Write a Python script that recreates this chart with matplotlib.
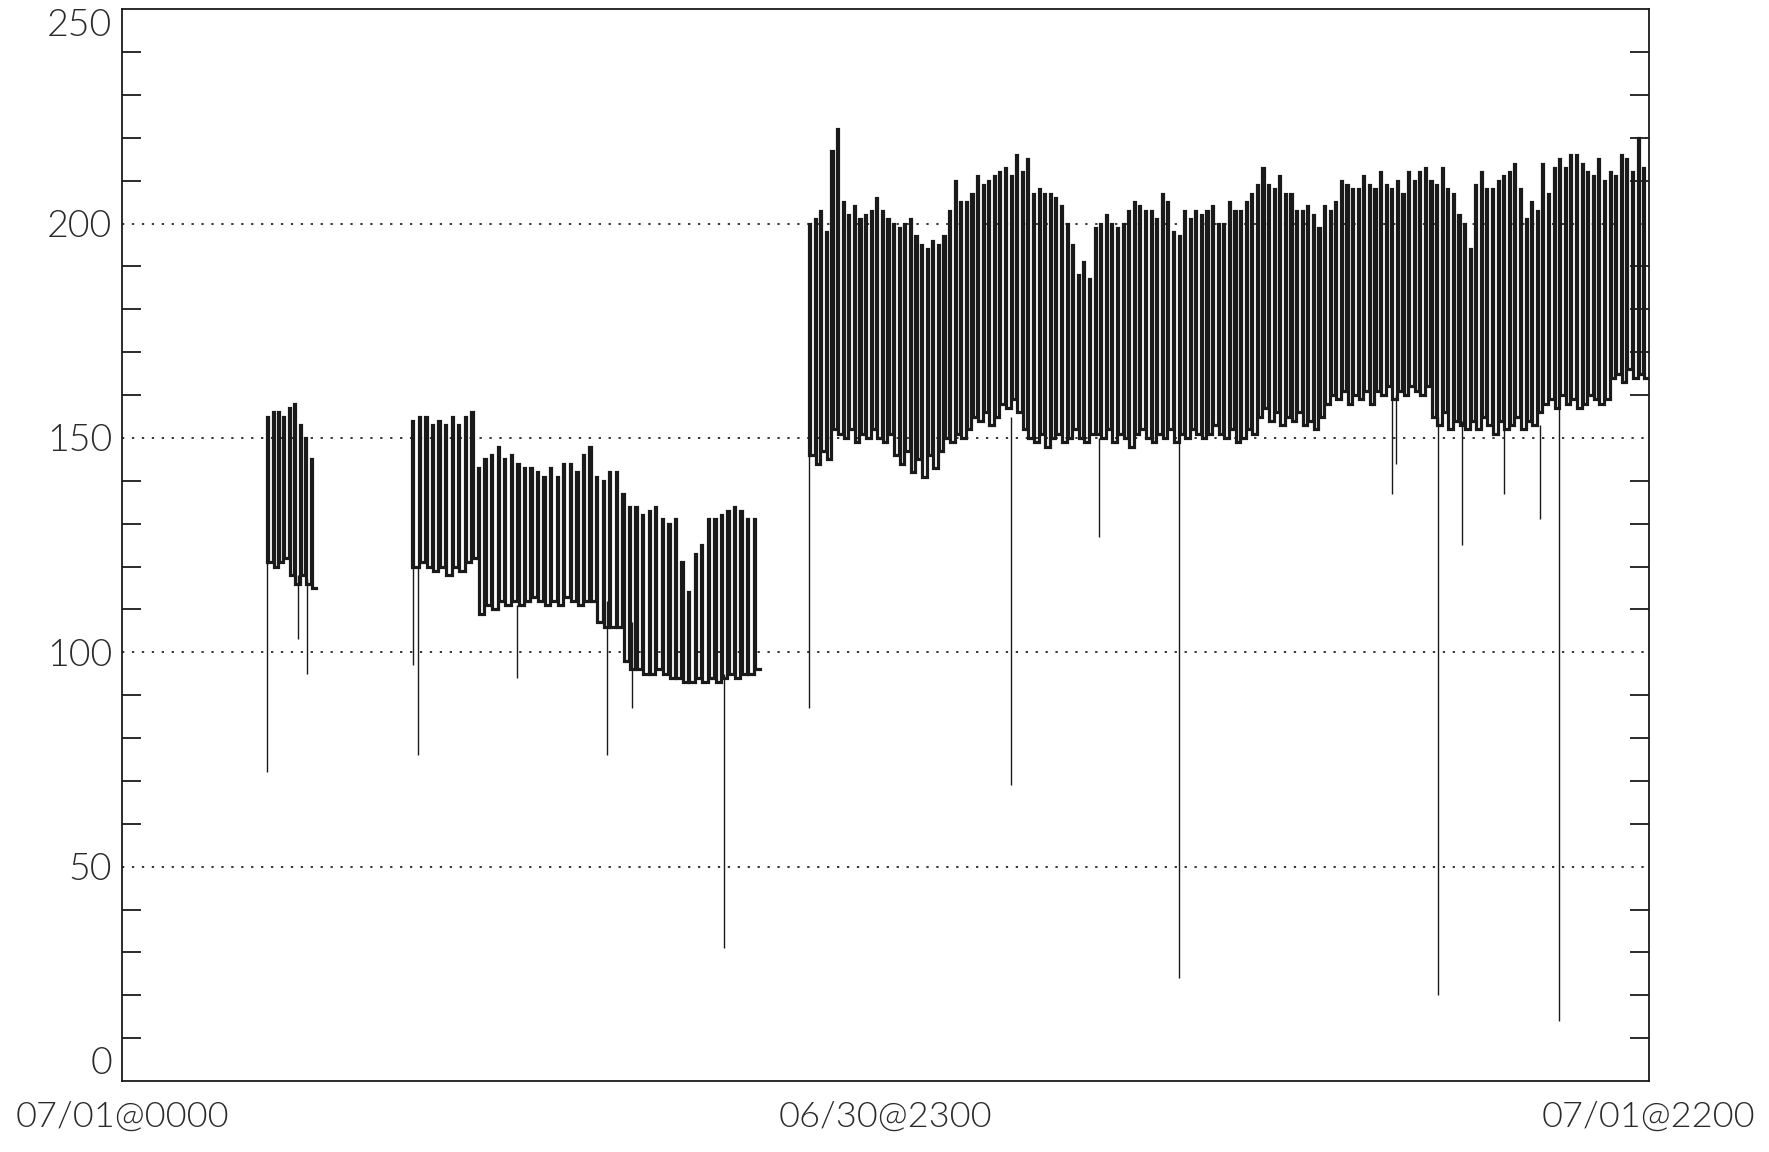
"""Pulse train trace with dropouts, redrawn from a scanned strip chart."""

import matplotlib
matplotlib.use("Agg")
import matplotlib.pyplot as plt
import numpy as np

plt.rcParams["font.family"] = ["Lato", "DejaVu Sans"]

# time axis runs 0..1000 (arbitrary sample units), labelled at three points
X_TICKS = [0, 500, 1000]
X_LABELS = ["07/01@0000", "06/30@2300", "07/01@2200"]
Y_LABELS = [0, 50, 100, 150, 200, 250]

# segment 1
SEG1_RANGE = (95, 127)
SEG1_PEAKS = [155, 156, 156, 155, 157, 158, 153, 150, 145]
SEG1_LOWS = [121, 120, 121, 122, 118, 116, 118, 116, 115]

# segment 2
SEG2_RANGE = (190, 418)
SEG2_PEAKS = [154, 155, 155, 153, 154, 153, 155, 153, 155, 156,
              143, 145, 146, 148, 145, 146, 144, 143, 143, 142, 141, 143, 141, 144, 144, 142,
              146, 148, 141, 140, 142, 142, 137, 134, 134, 132, 133, 134, 131, 130, 131,
              121, 114, 123, 125, 131, 131, 132, 133, 134, 133, 131, 131]
SEG2_LOWS = [120, 121, 120, 119, 120, 118, 120, 119, 121, 122,
             109, 111, 110, 112, 111, 112, 111, 112, 113, 112, 111, 112, 111, 113, 112, 111,
             112, 112, 107, 106, 106, 106, 98, 96, 96, 95, 95, 96, 95, 94, 94,
             93, 93, 94, 93, 94, 93, 94, 95, 94, 95, 95, 96]

# segment 3
SEG3_RANGE = (450, 1000)
SEG3_PEAKS = [200, 201, 203, 198, 217, 222, 205, 202, 204, 201, 202, 203, 206, 203, 201, 200, 199,
              200, 201, 197, 195, 194, 196, 195, 197, 203, 210, 205, 205, 207, 211, 209, 210, 211,
              212, 213, 211, 216, 212, 215, 207, 208, 207, 207, 206, 204, 200, 195, 188, 191, 187,
              199, 200, 202, 200, 199, 200, 203, 205, 204, 203, 203, 201, 207, 205, 198, 197, 203,
              201, 203, 202, 203,
              204, 200, 200, 205, 203, 203, 205, 207, 209, 213, 209, 208, 211, 207, 207, 203, 203,
              204, 202, 199, 204, 203, 205, 210, 209, 208, 208, 211, 209, 208, 212, 209, 208, 210,
              207, 212, 210, 212, 213,
              210, 209, 213, 208, 207, 202, 200, 194, 209, 212, 208, 208, 210, 211, 212, 214, 208,
              201, 205, 203, 214, 207, 213, 215, 213, 216, 216, 214, 212, 211, 215, 210, 212, 211,
              216, 215, 212, 220, 213]
SEG3_LOWS = [146, 144, 147, 145, 152, 151, 150, 152, 149, 151, 150, 152, 150, 149, 151,
             146, 144, 147, 142, 145, 141, 146, 143, 147, 150, 149, 151, 150, 152, 155, 154, 156, 153, 155,
             158, 157, 159, 156, 152, 150, 149, 151, 148, 150, 151, 149, 150, 152, 150, 149, 151,
             151, 150, 152, 149, 151, 150, 148, 151, 152, 150, 149, 151, 150, 152, 149, 151, 150, 152,
             151, 150, 151,
             153, 151, 150, 152, 149, 150, 152, 151, 155, 157, 154, 156, 153, 155, 154, 156, 153, 154,
             152, 155, 158, 160, 159, 161, 158, 160, 159, 161, 158, 161, 160, 162, 159, 161, 160, 162,
             161, 160, 162,
             155, 153, 156, 152, 154, 153, 152, 154, 152, 155, 153, 151, 154, 152, 153, 155, 152, 154,
             153, 156, 158, 159, 157, 160, 158, 159, 157, 158, 160, 159, 158, 159, 164, 165, 163, 166,
             164, 165, 164]

# dropouts: position, bottom of the dropout, level it falls from
SPIKE_X = [95, 115, 121, 190.5, 194, 258.5, 317.5, 334, 394.5, 450, 582, 640, 692,
           831.7, 834.6, 862, 878, 905.5, 929, 941]
SPIKE_BOTTOM = [72, 103, 95, 97, 76, 94, 76, 87, 31, 87, 69, 127, 24,
                137, 144, 20, 125, 137, 131, 14]
SPIKE_TOP = [121, 118, 117, 120, 120, 111, 112, 107, 95, 146, 155, 150, 150,
             160, 160, 155, 154, 153, 153, 158]

INK = "#1a1a1a"
TEXT = "#2a2a2a"


def pulse_train(span, peaks, lows, duty=0.2):
    t = np.linspace(span[0], span[1], len(peaks) + 1)
    per = t[1] - t[0]
    xs, ys = [], []
    prev = lows[0]
    for x0, hi, lo in zip(t[:-1], peaks, lows):
        x1 = x0 + duty * per
        xs += [x0, x0, x1, x1]
        ys += [prev, hi, hi, lo]
        prev = lo
    xs.append(t[-1])
    ys.append(prev)
    return xs, ys


fig = plt.figure(figsize=(17.69, 11.52), dpi=100)
ax = fig.add_axes([0.069, 0.0616, 0.863, 0.9304])

for y in [50, 100, 150, 200]:
    ax.axhline(y, color="black", lw=1.1, ls=(0, (1.5, 5)), zorder=1)

for span, peaks, lows in [
    (SEG1_RANGE, SEG1_PEAKS, SEG1_LOWS),
    (SEG2_RANGE, SEG2_PEAKS, SEG2_LOWS),
    (SEG3_RANGE, SEG3_PEAKS, SEG3_LOWS),
]:
    xs, ys = pulse_train(span, peaks, lows)
    ax.plot(xs, ys, color=INK, lw=2.3, solid_joinstyle="miter", zorder=3)

ax.vlines(SPIKE_X, SPIKE_BOTTOM, SPIKE_TOP, color=INK, lw=1.0, zorder=3)

ax.set_xlim(0, 1000)
ax.set_ylim(0, 250)

ax.set_xticks(X_TICKS)
ax.set_xticklabels(X_LABELS, fontsize=26, color=TEXT, fontweight=300)
ax.tick_params(axis="x", direction="in", length=0, pad=14, top=False)
# only the middle tick mark is drawn, top and bottom
ax.set_xticks([500], minor=True)
ax.tick_params(axis="x", which="minor", direction="in", length=15, width=1.3,
               top=True, bottom=True, color=INK)

ax.set_yticks(Y_LABELS)
ax.set_yticklabels([str(v) for v in Y_LABELS], fontsize=27, color=TEXT, fontweight=300)
ax.set_yticks([v for v in range(10, 250, 10) if v % 50], minor=True)
ax.tick_params(axis="y", direction="in", length=0, pad=7)
ax.tick_params(axis="y", which="minor", direction="in", length=14, width=1.3,
               left=True, right=True, color=INK)
ylabs = ax.get_yticklabels()
ylabs[0].set_va("bottom")
ylabs[-1].set_va("top")

for s in ax.spines.values():
    s.set_linewidth(1.3)
    s.set_color(INK)

fig.savefig("out.png", dpi=100)
